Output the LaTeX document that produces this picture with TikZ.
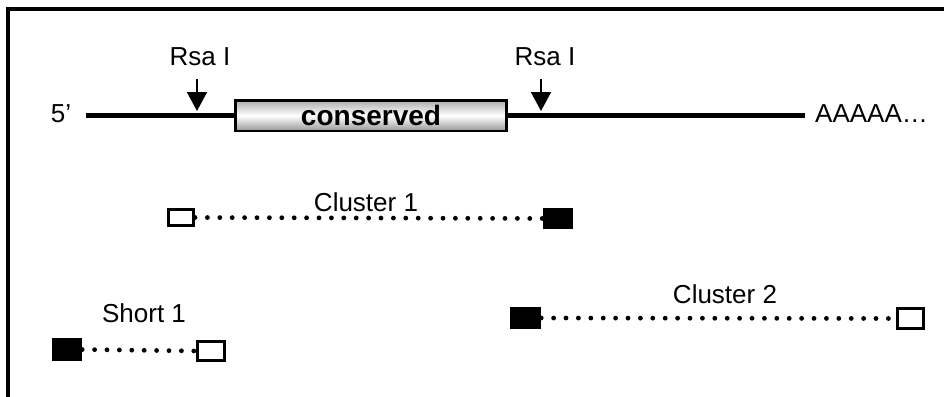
\documentclass[tikz,border=0pt]{standalone}
\usepackage{fontspec}
\setmainfont{Liberation Sans}
\usetikzlibrary{arrows.meta}
\tikzset{%
  endbox/.style    = {shape=rectangle, inner sep=0pt},%
  openend/.style   = {endbox, draw, line width=3pt, fill=white,%
                      minimum width=25pt, minimum height=16pt},%
  filledend/.style = {endbox, fill=black,%
                      minimum width=30pt, minimum height=22pt},%
  dotline/.style   = {line width=4.8pt, line cap=round,%
                      dash pattern=on 0pt off 12.4pt},%
  mrna/.style      = {line width=4.8pt},%
  cutsite/.style   = {line width=1.8pt, -{Triangle[width=20pt,length=19pt]}}%
}

\begin{document}
\begin{tikzpicture}[x=1pt,y=-1pt,
	every node/.style = {font=\fontsize{26}{30}\selectfont, inner sep=0pt}]
	\useasboundingbox (0,0) rectangle (944,396);
	\clip (0,0) rectangle (944,396);
	\draw[line width=3.2pt] (8,9) rectangle (1000,450);
	% transcript
	\node (five) at (61,114) {5’};
	\coordinate (mrna5) at (86,115.5);
	\coordinate (mrna3) at (805,115.5);
	\node [draw, line width=2.5pt, minimum width=271pt, minimum height=30.5pt,
		top color=gray!65, bottom color=gray!80, middle color=white,
		font=\fontsize{28}{32}\selectfont\bfseries] (cons) at (371,115.5) {conserved};
	\draw[mrna] (mrna5) -- (cons.west) (cons.east) -- (mrna3);
	\node [anchor=west] (polyA) at (815,114) {AAAAA…};
	% restriction sites
	\node (rsa1) at (200,57) {Rsa I};
	\node (rsa2) at (545,57) {Rsa I};
	\coordinate (cut1) at (197,111);
	\coordinate (cut2) at (541,111);
	\draw[cutsite] (cut1 |- rsa1.south) ++(0,12.5) -- (cut1);
	\draw[cutsite] (cut2 |- rsa2.south) ++(0,12.5) -- (cut2);
	% cluster 1
	\node [openend] (c1open) at (181,217.5) {};
	\node [filledend, minimum height=21pt] (c1fill) at (558,218.5) {};
	\draw[dotline] (c1open.east) -- (c1fill.west);
	\node (c1) at (366,202) {Cluster 1};
	% short 1
	\node [filledend, minimum height=23pt] (s1fill) at (67,349.5) {};
	\node [openend, minimum width=27pt, minimum height=19pt] (s1open) at (211,351) {};
	\draw[dotline] (s1fill.east) -- (s1open.west);
	\node (s1) at (144,313) {Short 1};
	% cluster 2
	\node [filledend, minimum width=31pt] (c2fill) at (525.5,318) {};
	\node [openend, minimum width=26pt, minimum height=20pt] (c2open) at (910.5,318.5) {};
	\draw[dotline] (c2fill.east) -- (c2open.west);
	\node (c2) at (725,294) {Cluster 2};
\end{tikzpicture}
\end{document}
